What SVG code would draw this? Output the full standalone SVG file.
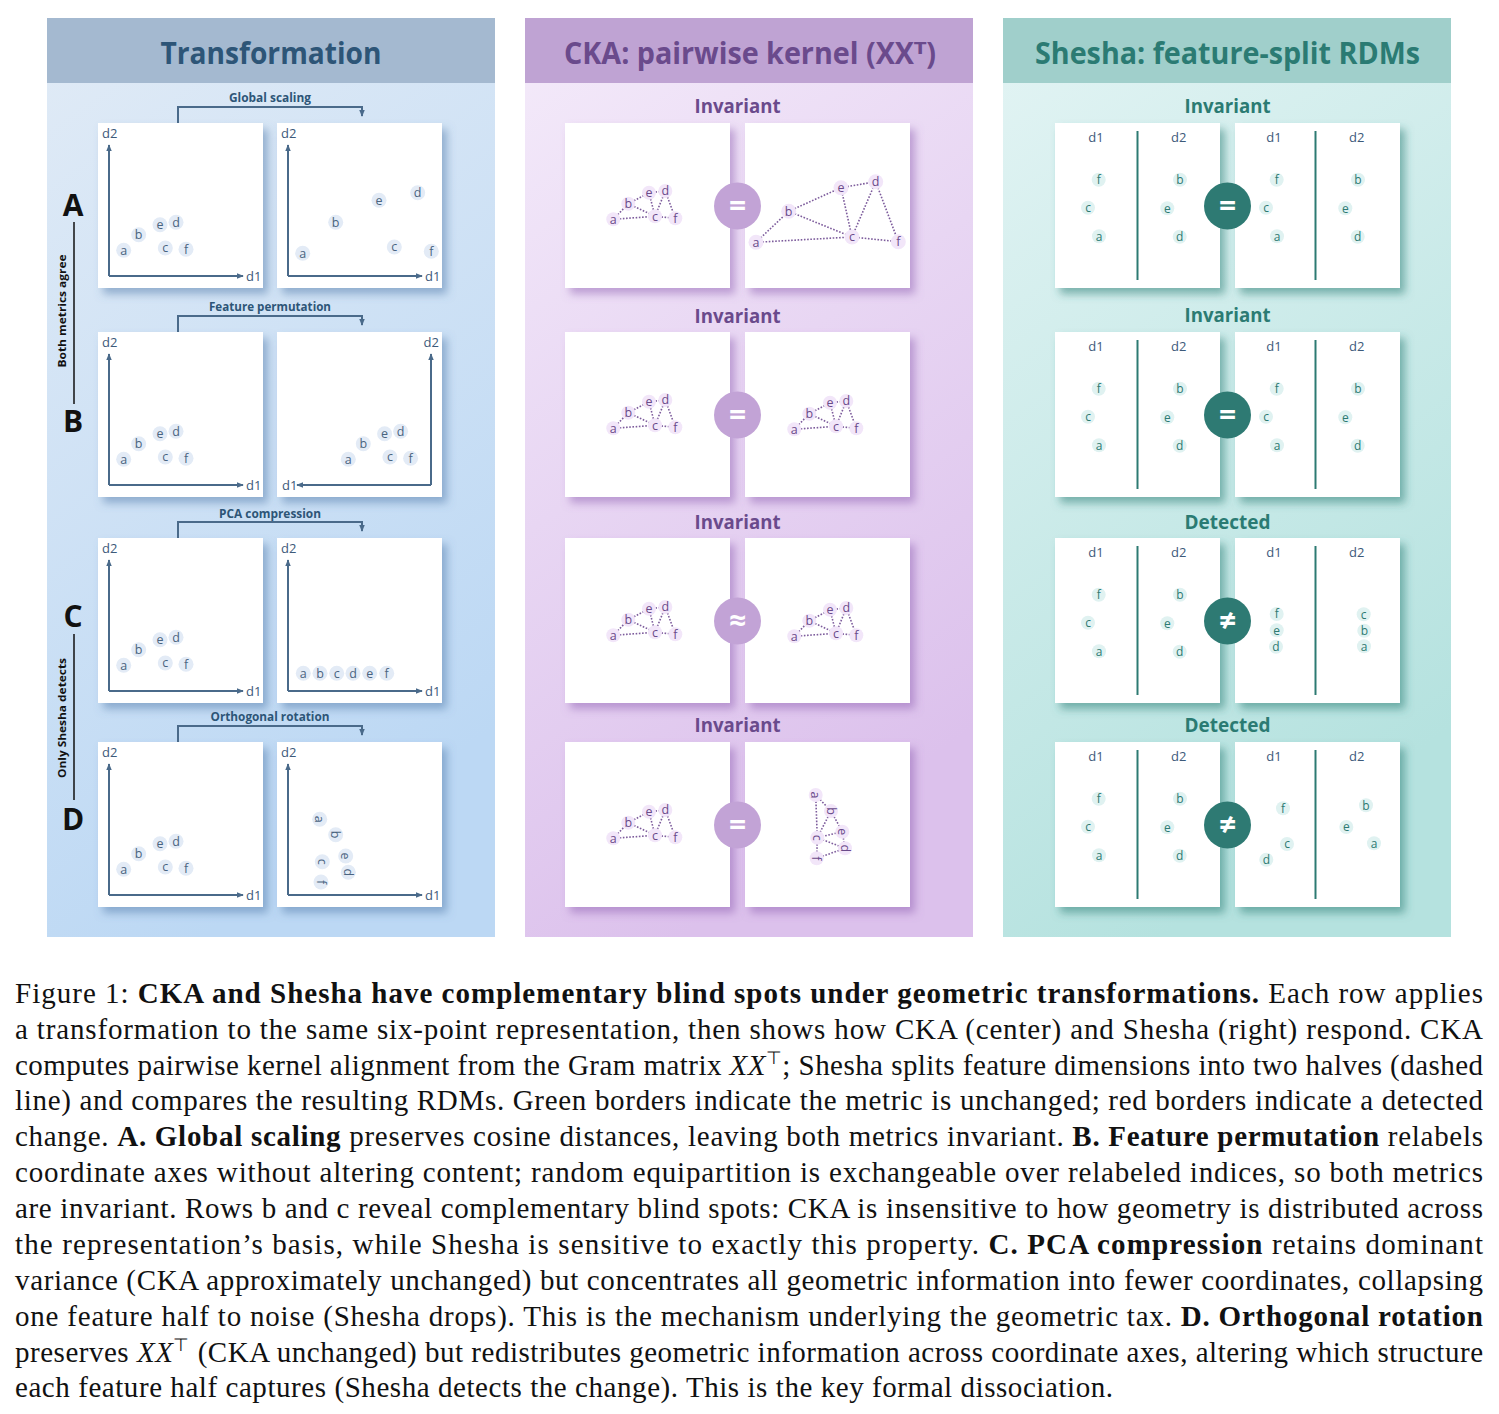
<svg xmlns="http://www.w3.org/2000/svg" width="1499" height="1414" viewBox="0 0 1499 1414">
<defs>
<linearGradient id="gT" x1="0" y1="0" x2="0.35" y2="1"><stop offset="0" stop-color="#e1ebf6"/><stop offset="1" stop-color="#bcd8f4"/></linearGradient>
<linearGradient id="gC" x1="0" y1="0" x2="0.35" y2="1"><stop offset="0" stop-color="#f4ebfa"/><stop offset="1" stop-color="#dcc1ec"/></linearGradient>
<linearGradient id="gS" x1="0" y1="0" x2="0.35" y2="1"><stop offset="0" stop-color="#e3f4f4"/><stop offset="1" stop-color="#b5e2df"/></linearGradient>
<filter id="shT" x="-10%" y="-10%" width="130%" height="130%"><feDropShadow dx="5" dy="6" stdDeviation="4" flood-color="#4f77a8" flood-opacity="0.5"/></filter>
<filter id="shC" x="-10%" y="-10%" width="130%" height="130%"><feDropShadow dx="5" dy="6" stdDeviation="4" flood-color="#8d5cb0" flood-opacity="0.5"/></filter>
<filter id="shS" x="-10%" y="-10%" width="130%" height="130%"><feDropShadow dx="5" dy="6" stdDeviation="4" flood-color="#2f8078" flood-opacity="0.55"/></filter>
<marker id="ah" viewBox="0 0 8 8" refX="7" refY="4" markerWidth="7" markerHeight="7" markerUnits="userSpaceOnUse" orient="auto"><path d="M0,0.8 L8,4 L0,7.2 Z" fill="#4a6a8a"/></marker>
<style>
.ttl{font-family:'Open Sans','DejaVu Sans',sans-serif;font-weight:700;font-size:30px;text-anchor:middle}
.lab{font-family:'Open Sans',sans-serif;font-weight:700;font-size:12px;fill:#2d5577;text-anchor:middle}
.sub{font-family:'Open Sans',sans-serif;font-weight:700;font-size:19px;text-anchor:middle}
.rowl{font-family:'Open Sans',sans-serif;font-weight:700;font-size:30px;fill:#111;text-anchor:middle}
.vl{font-family:'Open Sans',sans-serif;font-weight:700;font-size:11px;fill:#111;text-anchor:middle}
.ax{stroke:#4a6a8a;stroke-width:2;fill:none}
.brk{stroke:#4a6a8a;stroke-width:2;fill:none}
.axl{font-family:'Open Sans',sans-serif;font-size:13px;fill:#3d5a7a}
.pt circle{fill:#e3ebf6}
.pt text{font-family:'Open Sans',sans-serif;font-size:12.5px;fill:#4a6480;text-anchor:middle}
.ck line{stroke:#7d5c9c;stroke-width:1.6;stroke-dasharray:1.6 1.6}
.ck circle{fill:#f2e6f9}
.ck text{font-family:'Open Sans',sans-serif;font-size:12.5px;fill:#6a4a8a;text-anchor:middle}
.sh circle{fill:#e0f2f1}
.sh text{font-family:'Open Sans',sans-serif;font-size:12px;fill:#2d7a72;text-anchor:middle}
.shd{stroke:#2d7a72;stroke-width:2}
.sym{font-family:'Open Sans','DejaVu Sans',sans-serif;font-weight:700;font-size:30px;fill:#fff;text-anchor:middle}
.card{fill:#fff}
.cap{font-family:'Liberation Serif',serif;font-size:29px;fill:#111}
.b{font-weight:700}
.i{font-style:italic}
</style>
<g id="axes"><line class="ax" x1="11" y1="153" x2="11" y2="22" marker-end="url(#ah)"/><line class="ax" x1="11" y1="153" x2="145" y2="153" marker-end="url(#ah)"/><text class="axl" x="4" y="15">d2</text><text class="axl" x="148" y="158">d1</text></g>
<g id="tp" class="pt">
<circle cx="25.7" cy="127.3" r="7.5"/><text x="25.7" y="131.6">a</text>
<circle cx="40.7" cy="111.7" r="7.5"/><text x="40.7" y="116">b</text>
<circle cx="62" cy="101.7" r="7.5"/><text x="62" y="106">e</text>
<circle cx="78" cy="99.3" r="7.5"/><text x="78" y="103.6">d</text>
<circle cx="67.3" cy="125" r="7.5"/><text x="67.3" y="129.3">c</text>
<circle cx="88" cy="126.3" r="7.5"/><text x="88" y="130.6">f</text>
</g>
<g id="ck" class="ck">
<line x1="48.3" y1="96.3" x2="63.3" y2="80.7"/><line x1="48.3" y1="96.3" x2="90" y2="93.3"/><line x1="63.3" y1="80.7" x2="84" y2="69.7"/><line x1="63.3" y1="80.7" x2="90" y2="93.3"/><line x1="84" y1="69.7" x2="100.3" y2="68"/><line x1="84" y1="69.7" x2="90" y2="93.3"/><line x1="100.3" y1="68" x2="90" y2="93.3"/><line x1="100.3" y1="68" x2="110.3" y2="95.3"/><line x1="90" y1="93.3" x2="110.3" y2="95.3"/>
<circle cx="48.3" cy="96.3" r="7"/><text x="48.3" y="100.6">a</text>
<circle cx="63.3" cy="80.7" r="7"/><text x="63.3" y="85">b</text>
<circle cx="84" cy="69.7" r="7"/><text x="84" y="74">e</text>
<circle cx="100.3" cy="68" r="7"/><text x="100.3" y="72.3">d</text>
<circle cx="90" cy="93.3" r="7"/><text x="90" y="97.6">c</text>
<circle cx="110.3" cy="95.3" r="7"/><text x="110.3" y="99.6">f</text>
</g>
<g id="shf"><line class="shd" x1="82.5" y1="8" x2="82.5" y2="157"/><text class="axl" x="41" y="19" text-anchor="middle">d1</text><text class="axl" x="123.7" y="19" text-anchor="middle">d2</text></g>
<g id="shp" class="sh">
<circle cx="43.7" cy="56.7" r="7"/><text x="43.7" y="61">f</text>
<circle cx="33" cy="84.7" r="7"/><text x="33" y="89">c</text>
<circle cx="44" cy="113.3" r="7"/><text x="44" y="117.6">a</text>
<circle cx="125" cy="56.7" r="7"/><text x="125" y="61">b</text>
<circle cx="112.3" cy="85.3" r="7"/><text x="112.3" y="89.6">e</text>
<circle cx="124.7" cy="113.7" r="7"/><text x="124.7" y="118">d</text>
</g>
</defs>

<!-- Panels -->
<g id="panel-transformation">
<rect x="47" y="18" width="448" height="919" fill="url(#gT)"/>
<rect x="47" y="18" width="448" height="65" fill="#a4b9d0"/>
<text class="ttl" x="271" y="64" fill="#2d5577" textLength="221" lengthAdjust="spacingAndGlyphs">Transformation</text>
</g>
<g id="panel-cka">
<rect x="525" y="18" width="448" height="919" fill="url(#gC)"/>
<rect x="525" y="18" width="448" height="65" fill="#bfa3d3"/>
<text class="ttl" x="750" y="64" fill="#6a4a8c" textLength="372" lengthAdjust="spacingAndGlyphs">CKA: pairwise kernel (XXᵀ)</text>
</g>
<g id="panel-shesha">
<rect x="1003" y="18" width="448" height="919" fill="url(#gS)"/>
<rect x="1003" y="18" width="448" height="65" fill="#a0cfcb"/>
<text class="ttl" x="1227.5" y="64" fill="#2b7b73" textLength="385" lengthAdjust="spacingAndGlyphs">Shesha: feature-split RDMs</text>
</g>

<!-- Row labels -->
<g id="row-labels">
<text class="rowl" x="73" y="216">A</text>
<text class="rowl" x="73" y="432">B</text>
<text class="rowl" x="73" y="627">C</text>
<text class="rowl" x="73" y="830">D</text>
<line x1="74" y1="222" x2="74" y2="404" stroke="#111" stroke-width="1.5"/>
<line x1="74" y1="634" x2="74" y2="800" stroke="#111" stroke-width="1.5"/>
<text class="vl" transform="translate(66,311) rotate(-90)" textLength="113" lengthAdjust="spacingAndGlyphs">Both metrics agree</text>
<text class="vl" transform="translate(66,718) rotate(-90)" textLength="120" lengthAdjust="spacingAndGlyphs">Only Shesha detects</text>
</g>

<!-- Transformation plots -->
<g id="t-row-A">
<rect class="card" x="98" y="123" width="165" height="165" filter="url(#shT)"/>
<use href="#axes" x="98" y="123"/><use href="#tp" x="98" y="123"/>
<rect class="card" x="277" y="123" width="165" height="165" filter="url(#shT)"/>
<use href="#axes" x="277" y="123"/>
<g class="pt" transform="translate(277,123)">
<circle cx="25.7" cy="130.3" r="7.5"/><text x="25.7" y="134.6">a</text>
<circle cx="58.7" cy="99.3" r="7.5"/><text x="58.7" y="103.6">b</text>
<circle cx="102" cy="77.3" r="7.5"/><text x="102" y="81.6">e</text>
<circle cx="140.7" cy="69.7" r="7.5"/><text x="140.7" y="74">d</text>
<circle cx="117.3" cy="124" r="7.5"/><text x="117.3" y="128.3">c</text>
<circle cx="154.3" cy="128.3" r="7.5"/><text x="154.3" y="132.6">f</text>
</g>
<text class="lab" x="270" y="102" textLength="82" lengthAdjust="spacingAndGlyphs">Global scaling</text>
</g>
<g id="t-row-B">
<rect class="card" x="98" y="332" width="165" height="165" filter="url(#shT)"/>
<use href="#axes" x="98" y="332"/><use href="#tp" x="98" y="332"/>
<rect class="card" x="277" y="332" width="165" height="165" filter="url(#shT)"/>
<g transform="translate(277,332)">
<line class="ax" x1="154" y1="153" x2="154" y2="22" marker-end="url(#ah)"/><line class="ax" x1="154" y1="153" x2="20" y2="153" marker-end="url(#ah)"/>
<text class="axl" x="146.5" y="15">d2</text><text class="axl" x="5" y="158">d1</text>
</g>
<use href="#tp" x="322.6" y="332"/>
<text class="lab" x="270" y="311" textLength="122" lengthAdjust="spacingAndGlyphs">Feature permutation</text>
</g>
<g id="t-row-C">
<rect class="card" x="98" y="538" width="165" height="165" filter="url(#shT)"/>
<use href="#axes" x="98" y="538"/><use href="#tp" x="98" y="538"/>
<rect class="card" x="277" y="538" width="165" height="165" filter="url(#shT)"/>
<use href="#axes" x="277" y="538"/>
<g class="pt" transform="translate(277,538)">
<circle cx="26.3" cy="135.3" r="7.5"/><text x="26.3" y="139.6">a</text>
<circle cx="43" cy="135.3" r="7.5"/><text x="43" y="139.6">b</text>
<circle cx="59.7" cy="135.3" r="7.5"/><text x="59.7" y="139.6">c</text>
<circle cx="76" cy="135.3" r="7.5"/><text x="76" y="139.6">d</text>
<circle cx="92.7" cy="135.3" r="7.5"/><text x="92.7" y="139.6">e</text>
<circle cx="109.7" cy="135.3" r="7.5"/><text x="109.7" y="139.6">f</text>
</g>
<text class="lab" x="270" y="518" textLength="102" lengthAdjust="spacingAndGlyphs">PCA compression</text>
</g>
<g id="t-row-D">
<rect class="card" x="98" y="742" width="165" height="165" filter="url(#shT)"/>
<use href="#axes" x="98" y="742"/><use href="#tp" x="98" y="742"/>
<rect class="card" x="277" y="742" width="165" height="165" filter="url(#shT)"/>
<use href="#axes" x="277" y="742"/>
<g class="pt" transform="translate(277,742)">
<circle cx="42.7" cy="77.3" r="7.5"/><text x="42.7" y="81.6" transform="rotate(90 42.7 77.3)">a</text>
<circle cx="58.7" cy="92.7" r="7.5"/><text x="58.7" y="97" transform="rotate(90 58.7 92.7)">b</text>
<circle cx="68.7" cy="114" r="7.5"/><text x="68.7" y="118.3" transform="rotate(90 68.7 114)">e</text>
<circle cx="45.3" cy="119.7" r="7.5"/><text x="45.3" y="124" transform="rotate(90 45.3 119.7)">c</text>
<circle cx="71.3" cy="130.3" r="7.5"/><text x="71.3" y="134.6" transform="rotate(90 71.3 130.3)">d</text>
<circle cx="44" cy="140" r="7.5"/><text x="44" y="144.3" transform="rotate(90 44 140)">f</text>
</g>
<text class="lab" x="270" y="721" textLength="119" lengthAdjust="spacingAndGlyphs">Orthogonal rotation</text>
</g>

<!-- Connectors (transformation brackets) -->
<g id="connectors">
<path class="brk" d="M178,123 V107 H362 V116" marker-end="url(#ah)"/>
<path class="brk" d="M178,332 V316 H362 V325" marker-end="url(#ah)"/>
<path class="brk" d="M178,538 V522 H362 V531" marker-end="url(#ah)"/>
<path class="brk" d="M178,742 V726 H362 V735" marker-end="url(#ah)"/>
</g>

<!-- CKA rows -->
<g id="cka-row-A">
<text class="sub" x="737.5" y="113" fill="#6a4a8c" textLength="86" lengthAdjust="spacingAndGlyphs">Invariant</text>
<rect class="card" x="565" y="123" width="165" height="165" filter="url(#shC)"/>
<use href="#ck" x="565" y="123"/>
<rect class="card" x="745" y="123" width="165" height="165" filter="url(#shC)"/>
<g class="ck" transform="translate(745,123)">
<line x1="11" y1="119.3" x2="43.7" y2="88.3"/><line x1="11" y1="119.3" x2="107" y2="114"/><line x1="43.7" y1="88.3" x2="96" y2="64.7"/><line x1="43.7" y1="88.3" x2="107" y2="114"/><line x1="96" y1="64.7" x2="130.7" y2="58.7"/><line x1="96" y1="64.7" x2="107" y2="114"/><line x1="130.7" y1="58.7" x2="107" y2="114"/><line x1="130.7" y1="58.7" x2="153.3" y2="118.7"/><line x1="107" y1="114" x2="153.3" y2="118.7"/>
<circle cx="11" cy="119.3" r="7.5"/><text x="11" y="123.6">a</text>
<circle cx="43.7" cy="88.3" r="7.5"/><text x="43.7" y="92.6">b</text>
<circle cx="96" cy="64.7" r="7.5"/><text x="96" y="69">e</text>
<circle cx="130.7" cy="58.7" r="7.5"/><text x="130.7" y="63">d</text>
<circle cx="107" cy="114" r="7.5"/><text x="107" y="118.3">c</text>
<circle cx="153.3" cy="118.7" r="7.5"/><text x="153.3" y="123">f</text>
</g>
<circle cx="737.5" cy="206" r="23.5" fill="#c2a3d6"/><text class="sym" x="737.5" y="216">=</text>
</g>
<g id="cka-row-B">
<text class="sub" x="737.5" y="323" fill="#6a4a8c" textLength="86" lengthAdjust="spacingAndGlyphs">Invariant</text>
<rect class="card" x="565" y="332" width="165" height="165" filter="url(#shC)"/>
<use href="#ck" x="565" y="332"/>
<rect class="card" x="745" y="332" width="165" height="165" filter="url(#shC)"/>
<use href="#ck" x="746" y="333"/>
<circle cx="737.5" cy="415" r="23.5" fill="#c2a3d6"/><text class="sym" x="737.5" y="425">=</text>
</g>
<g id="cka-row-C">
<text class="sub" x="737.5" y="529" fill="#6a4a8c" textLength="86" lengthAdjust="spacingAndGlyphs">Invariant</text>
<rect class="card" x="565" y="538" width="165" height="165" filter="url(#shC)"/>
<use href="#ck" x="565" y="539"/>
<rect class="card" x="745" y="538" width="165" height="165" filter="url(#shC)"/>
<use href="#ck" x="746" y="540"/>
<circle cx="737.5" cy="621" r="23.5" fill="#c2a3d6"/><text class="sym" x="737.5" y="631">≈</text>
</g>
<g id="cka-row-D">
<text class="sub" x="737.5" y="732" fill="#6a4a8c" textLength="86" lengthAdjust="spacingAndGlyphs">Invariant</text>
<rect class="card" x="565" y="742" width="165" height="165" filter="url(#shC)"/>
<use href="#ck" x="565" y="742"/>
<rect class="card" x="745" y="742" width="165" height="165" filter="url(#shC)"/>
<g class="ck" transform="translate(745,742)">
<line x1="70.7" y1="53" x2="86" y2="69"/><line x1="70.7" y1="53" x2="72.3" y2="95.7"/><line x1="86" y1="69" x2="97.3" y2="89.7"/><line x1="86" y1="69" x2="72.3" y2="95.7"/><line x1="97.3" y1="89.7" x2="100" y2="106.3"/><line x1="97.3" y1="89.7" x2="72.3" y2="95.7"/><line x1="100" y1="106.3" x2="72.3" y2="95.7"/><line x1="100" y1="106.3" x2="71.7" y2="116.3"/><line x1="72.3" y1="95.7" x2="71.7" y2="116.3"/>
<circle cx="70.7" cy="53" r="7"/><text x="70.7" y="57.3" transform="rotate(90 70.7 53)">a</text>
<circle cx="86" cy="69" r="7"/><text x="86" y="73.3" transform="rotate(90 86 69)">b</text>
<circle cx="97.3" cy="89.7" r="7"/><text x="97.3" y="94" transform="rotate(90 97.3 89.7)">e</text>
<circle cx="72.3" cy="95.7" r="7"/><text x="72.3" y="100" transform="rotate(90 72.3 95.7)">c</text>
<circle cx="100" cy="106.3" r="7"/><text x="100" y="110.6" transform="rotate(90 100 106.3)">d</text>
<circle cx="71.7" cy="116.3" r="7"/><text x="71.7" y="120.6" transform="rotate(90 71.7 116.3)">f</text>
</g>
<circle cx="737.5" cy="825" r="23.5" fill="#c2a3d6"/><text class="sym" x="737.5" y="835">=</text>
</g>

<!-- Shesha rows -->
<g id="shesha-row-A">
<text class="sub" x="1227.5" y="113" fill="#2b7b73" textLength="86" lengthAdjust="spacingAndGlyphs">Invariant</text>
<rect class="card" x="1055" y="123" width="165" height="165" filter="url(#shS)"/>
<use href="#shf" x="1055" y="123"/><use href="#shp" x="1055" y="123"/>
<rect class="card" x="1235" y="123" width="165" height="165" filter="url(#shS)"/>
<use href="#shf" x="1233" y="123"/><use href="#shp" x="1233" y="123"/>
<circle cx="1227.5" cy="206" r="23.5" fill="#2e7a73"/><text class="sym" x="1227.5" y="216">=</text>
</g>
<g id="shesha-row-B">
<text class="sub" x="1227.5" y="322" fill="#2b7b73" textLength="86" lengthAdjust="spacingAndGlyphs">Invariant</text>
<rect class="card" x="1055" y="332" width="165" height="165" filter="url(#shS)"/>
<use href="#shf" x="1055" y="332"/><use href="#shp" x="1055" y="332"/>
<rect class="card" x="1235" y="332" width="165" height="165" filter="url(#shS)"/>
<use href="#shf" x="1233" y="332"/><use href="#shp" x="1233" y="332"/>
<circle cx="1227.5" cy="415" r="23.5" fill="#2e7a73"/><text class="sym" x="1227.5" y="425">=</text>
</g>
<g id="shesha-row-C">
<text class="sub" x="1227.5" y="529" fill="#2b7b73" textLength="86" lengthAdjust="spacingAndGlyphs">Detected</text>
<rect class="card" x="1055" y="538" width="165" height="165" filter="url(#shS)"/>
<use href="#shf" x="1055" y="538"/><use href="#shp" x="1055" y="538"/>
<rect class="card" x="1235" y="538" width="165" height="165" filter="url(#shS)"/>
<use href="#shf" x="1233" y="538"/>
<g class="sh" transform="translate(1235,538)">
<circle cx="41.7" cy="76" r="7"/><text x="41.7" y="80.3">f</text>
<circle cx="41.7" cy="92.3" r="7"/><text x="41.7" y="96.6">e</text>
<circle cx="41" cy="108.7" r="7"/><text x="41" y="113">d</text>
<circle cx="128.7" cy="76.3" r="7"/><text x="128.7" y="80.6">c</text>
<circle cx="129.3" cy="92.7" r="7"/><text x="129.3" y="97">b</text>
<circle cx="129" cy="108.3" r="7"/><text x="129" y="112.6">a</text>
</g>
<circle cx="1227.5" cy="621" r="23.5" fill="#2e7a73"/><text class="sym" x="1227.5" y="631">≠</text>
</g>
<g id="shesha-row-D">
<text class="sub" x="1227.5" y="732" fill="#2b7b73" textLength="86" lengthAdjust="spacingAndGlyphs">Detected</text>
<rect class="card" x="1055" y="742" width="165" height="165" filter="url(#shS)"/>
<use href="#shf" x="1055" y="742"/><use href="#shp" x="1055" y="742"/>
<rect class="card" x="1235" y="742" width="165" height="165" filter="url(#shS)"/>
<use href="#shf" x="1233" y="742"/>
<g class="sh" transform="translate(1235,742)">
<circle cx="48" cy="66.3" r="7"/><text x="48" y="70.6">f</text>
<circle cx="52" cy="102" r="7"/><text x="52" y="106.3">c</text>
<circle cx="31.3" cy="117.7" r="7"/><text x="31.3" y="122">d</text>
<circle cx="131" cy="63.3" r="7"/><text x="131" y="67.6">b</text>
<circle cx="111.3" cy="85" r="7"/><text x="111.3" y="89.3">e</text>
<circle cx="139" cy="101.3" r="7"/><text x="139" y="105.6">a</text>
</g>
<circle cx="1227.5" cy="825" r="23.5" fill="#2e7a73"/><text class="sym" x="1227.5" y="835">≠</text>
</g>

<!-- Caption -->
<g id="caption" class="cap">
<text x="15" y="1003" textLength="1468" lengthAdjust="spacing">Figure 1: <tspan class="b">CKA and Shesha have complementary blind spots under geometric transformations.</tspan> Each row applies</text>
<text x="15" y="1039" textLength="1468" lengthAdjust="spacing">a transformation to the same six-point representation, then shows how CKA (center) and Shesha (right) respond. CKA</text>
<text x="15" y="1075" textLength="1468" lengthAdjust="spacing">computes pairwise kernel alignment from the Gram matrix <tspan class="i">XX</tspan><tspan font-size="18" dy="-11">⊤</tspan><tspan dy="11">; Shesha splits feature dimensions into two halves (dashed</tspan></text>
<text x="15" y="1110" textLength="1468" lengthAdjust="spacing">line) and compares the resulting RDMs. Green borders indicate the metric is unchanged; red borders indicate a detected</text>
<text x="15" y="1146" textLength="1468" lengthAdjust="spacing">change. <tspan class="b">A. Global scaling</tspan> preserves cosine distances, leaving both metrics invariant. <tspan class="b">B. Feature permutation</tspan> relabels</text>
<text x="15" y="1182" textLength="1468" lengthAdjust="spacing">coordinate axes without altering content; random equipartition is exchangeable over relabeled indices, so both metrics</text>
<text x="15" y="1218" textLength="1468" lengthAdjust="spacing">are invariant. Rows b and c reveal complementary blind spots: CKA is insensitive to how geometry is distributed across</text>
<text x="15" y="1254" textLength="1468" lengthAdjust="spacing">the representation’s basis, while Shesha is sensitive to exactly this property. <tspan class="b">C. PCA compression</tspan> retains dominant</text>
<text x="15" y="1290" textLength="1468" lengthAdjust="spacing">variance (CKA approximately unchanged) but concentrates all geometric information into fewer coordinates, collapsing</text>
<text x="15" y="1326" textLength="1468" lengthAdjust="spacing">one feature half to noise (Shesha drops). This is the mechanism underlying the geometric tax. <tspan class="b">D. Orthogonal rotation</tspan></text>
<text x="15" y="1362" textLength="1468" lengthAdjust="spacing">preserves <tspan class="i">XX</tspan><tspan font-size="18" dy="-11">⊤</tspan><tspan dy="11"> (CKA unchanged) but redistributes geometric information across coordinate axes, altering which structure</tspan></text>
<text x="15" y="1397" textLength="1098" lengthAdjust="spacing">each feature half captures (Shesha detects the change). This is the key formal dissociation.</text>
</g>
</svg>
